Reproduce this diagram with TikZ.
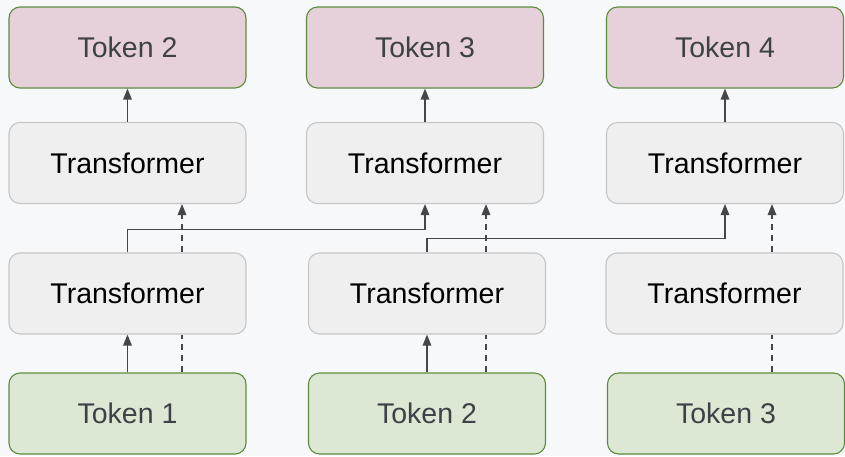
\documentclass[tikz,border=0pt]{standalone}
\usepackage{fontspec}
\setmainfont{Liberation Sans}
\usetikzlibrary{arrows.meta}
\definecolor{bgcol}{HTML}{F7F8FA}
\definecolor{outfill}{HTML}{E6D1DB}
\definecolor{infill}{HTML}{DDE8D4}
\definecolor{grnline}{HTML}{5B8C3C}
\definecolor{tffill}{HTML}{EFEFEF}
\definecolor{tfline}{HTML}{C6C6C6}
\definecolor{linecol}{HTML}{444649}
\definecolor{tokcol}{HTML}{3E4145}
\tikzset{
  blk/.style={rounded corners=11pt, minimum width=237pt, minimum height=81pt,
    inner sep=0pt, line width=1.1pt, font=\fontsize{28.5}{32}\selectfont},
  outtok/.style={blk, draw=grnline, fill=outfill, text=tokcol},
  intok/.style={blk, draw=grnline, fill=infill, text=tokcol},
  tfbox/.style={blk, draw=tfline, fill=tffill, text=black},
  arr/.style={draw=linecol, line width=1.5pt, -{Triangle[length=11pt,width=8.5pt]}},
  dsh/.style={draw=linecol, line width=1.5pt, dash pattern=on 6pt off 5pt}
}
\begin{document}
\begin{tikzpicture}[x=1pt,y=-1pt]
        \fill[bgcol] (0,0) rectangle (845,456);
        \useasboundingbox (0,0) rectangle (845,456);
        % predicted tokens
        \node[outtok] (out1) at (127.5,47.5) {Token 2};
        \node[outtok] (out2) at (425,47.5) {Token 3};
        \node[outtok] (out3) at (725,47.5) {Token 4};
        % upper layer
        \node[tfbox] (up1) at (127.5,163) {Transformer};
        \node[tfbox] (up2) at (425,163) {Transformer};
        \node[tfbox] (up3) at (725,163) {Transformer};
        % lower layer
        \node[tfbox] (low1) at (127.5,293.5) {Transformer};
        \node[tfbox] (low2) at (427,293.5) {Transformer};
        \node[tfbox] (low3) at (724.5,293.5) {Transformer};
        % input tokens
        \node[intok] (in1) at (127.5,413.5) {Token 1};
        \node[intok] (in2) at (427,413.5) {Token 2};
        \node[intok] (in3) at (726,413.5) {Token 3};
        % outputs
        \draw[arr] (up1.north) -- (out1.south);
        \draw[arr] (up2.north) -- (out2.south);
        \draw[arr] (up3.north) -- (out3.south);
        % lower -> upper
        \draw[arr] (low1.north) -- ++(0,-23) -| (up2.south);
        \draw[arr] (low2.north) -- ++(0,-14) -| (up3.south);
        \draw[dsh, arr] ([xshift=54.5pt]low1.north) -- ([xshift=54.5pt]low1.north |- up1.south);
        \draw[dsh, arr] ([xshift=59pt]low2.north) -- ([xshift=59pt]low2.north |- up2.south);
        \draw[dsh, arr] ([xshift=47.5pt]low3.north) -- ([xshift=47.5pt]low3.north |- up3.south);
        % inputs -> lower
        \draw[arr] (in1.north) -- (in1.north |- low1.south);
        \draw[arr] (in2.north) -- (low2.south);
        \draw[dsh] ([xshift=54.5pt]in1.north) -- ([xshift=54.5pt]in1.north |- low1.south);
        \draw[dsh] ([xshift=59pt]in2.north) -- ([xshift=59pt]in2.north |- low2.south);
        \draw[dsh] ([xshift=46pt]in3.north) -- ([xshift=46pt]in3.north |- low3.south);
\end{tikzpicture}
\end{document}
